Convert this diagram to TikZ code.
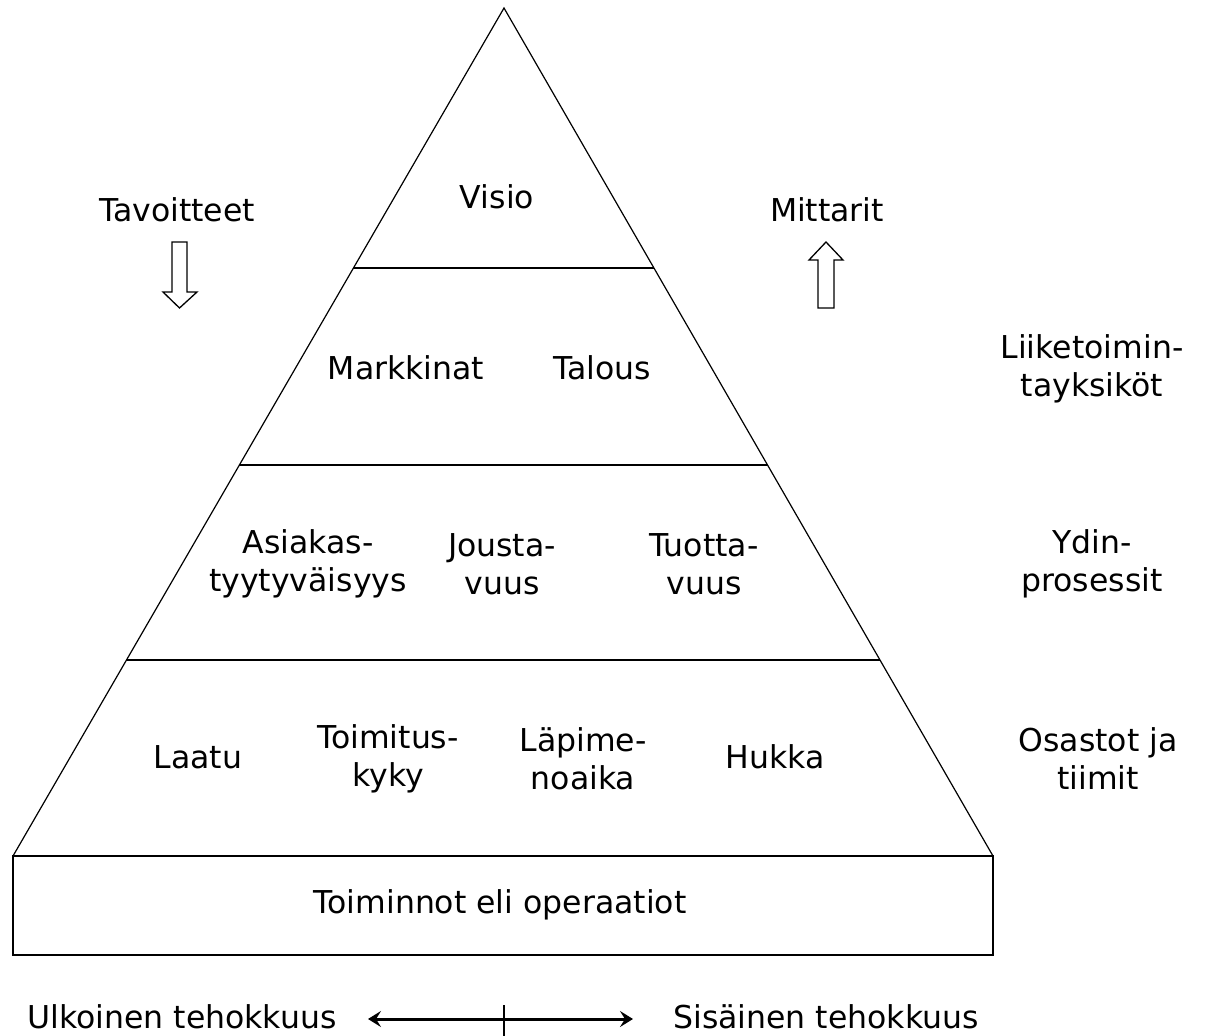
\documentclass[tikz,border=0pt]{standalone}
\usepackage{fontspec}
\setmainfont{DejaVu Sans}
\usetikzlibrary{arrows.meta,calc}
\begin{document}
\begin{tikzpicture}[x=1pt,y=-1pt,
  lbl/.style={inner sep=0pt,align=center,font=\fontsize{31.5}{38}\selectfont},
  edge/.style={line width=1.2pt},
  hollow/.style={line width=1.3pt,fill=white,line join=miter},
  axis/.style={line width=3pt},
  tip/.style={-{Stealth[length=13pt,width=16pt,inset=5pt]}}]
\useasboundingbox (0,0) rectangle (1213,1036);
% pyramid
\coordinate (apex) at (504,8);
\coordinate (bl) at (13,856);
\coordinate (br) at (993,856);
\draw[edge,line join=miter] (bl) -- (apex) -- (br);
\coordinate (l1) at ($(apex)!0.3066!(bl)$);
\coordinate (r1) at ($(apex)!0.3066!(br)$);
\coordinate (l2) at ($(apex)!0.5389!(bl)$);
\coordinate (r2) at ($(apex)!0.5389!(br)$);
\coordinate (l3) at ($(apex)!0.7689!(bl)$);
\coordinate (r3) at ($(apex)!0.7689!(br)$);
\draw[edge] (l1) -- (r1);
\draw[edge] (l2) -- (r2);
\draw[edge] (l3) -- (r3);
% base box
\coordinate (bb) at (993,955);
\draw[line width=1.7pt] (bl) rectangle (bb);
\draw[line width=2.8pt] (bl) -- (br);
% texts in pyramid
\node[lbl] (visio) at (497,197) {Visio};
\node[lbl] (mark) at (406,368) {Markkinat};
\node[lbl] (talous) at (602,368) {Talous};
\node[lbl] (asiak) at (308,564) {Asiakas-\\tyytyväisyys};
\node[lbl] (joust) at (502,564) {Jousta-\\vuus};
\node[lbl] (tuott) at (704,564) {Tuotta-\\vuus};
\node[lbl] (laatu) at (198,757) {Laatu};
\node[lbl] (toim) at (388,759) {Toimitus-\\kyky};
\node[lbl] (lapi) at (583,759) {Läpime-\\noaika};
\node[lbl] (hukka) at (775,757) {Hukka};
\node[lbl] (oper) at (500,905) {Toiminnot eli operaatiot};
% side labels
\node[lbl] (tav) at (177,210) {Tavoitteet};
\node[lbl] (mitt) at (827,210) {Mittarit};
\node[lbl] (liik) at (1092,369) {Liiketoimin-\\tayksiköt};
\node[lbl] (ydin) at (1092,564) {Ydin-\\prosessit};
\node[lbl] (osas) at (1098,759) {Osastot ja\\tiimit};
% hollow arrows
\draw[hollow] (172,242) -- (187,242) -- (187,292) -- (197,292) -- (179.5,308) -- (163,292) -- (172,292) -- cycle;
\draw[hollow] (818,308) -- (834,308) -- (834,260) -- (843,260) -- (826,242) -- (809,260) -- (818,260) -- cycle;
% bottom axis
\node[lbl] (ulk) at (182,1017) {Ulkoinen tehokkuus};
\node[lbl] (sis) at (826,1017) {Sisäinen tehokkuus};
\coordinate (mid) at (504,1019);
\coordinate (aleft) at (368,1019);
\coordinate (aright) at (633,1019);
\draw[axis,tip] (mid) -- (aleft);
\draw[axis,tip] (mid) -- (aright);
\coordinate (tickt) at (504,1005);
\coordinate (tickb) at (504,1036);
\draw[line width=1.2pt] (tickt) -- (tickb);
\end{tikzpicture}
\end{document}
